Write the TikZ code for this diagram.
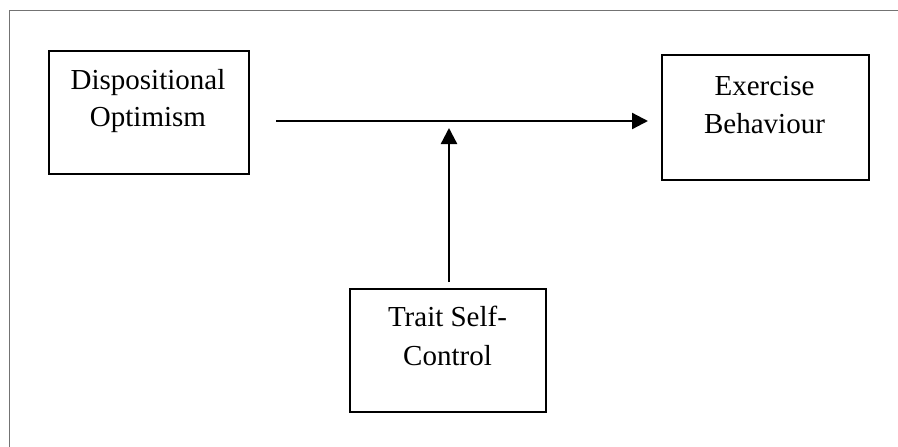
\documentclass[tikz,border=0pt]{standalone}
\usepackage{fontspec}
\setmainfont{Liberation Serif}
\usetikzlibrary{arrows.meta}
\tikzset{
  boxnode/.style={draw=black, line width=2.3pt, inner sep=0pt, anchor=north west},
  labeltext/.style={font=\fontsize{29}{37.5}\selectfont, align=center, anchor=base, inner sep=0pt},
  conn/.style={line width=2.3pt, -{Triangle[length=16pt,width=16pt]}},
  framestyle/.style={draw=black!55, line width=1pt}
}
\begin{document}
\begin{tikzpicture}[x=1pt,y=-1pt]
\useasboundingbox (0,0) rectangle (898,447);
\fill[white] (0,0) rectangle (898,447);
\draw[framestyle] (9,447) -- (9,10.5) -- (898,10.5);
% boxes
\node[boxnode, minimum width=200pt, minimum height=123pt] (opt) at (48,50) {};
\node[boxnode, minimum width=207pt, minimum height=125pt] (exb) at (661,54) {};
\node[boxnode, minimum width=196pt, minimum height=123pt] (tsc) at (349,288) {};
% texts
\node[labeltext] (optA) at (148,89.3) {Dispositional};
\node[labeltext] (optB) at (148,126.7) {Optimism};
\node[labeltext] (exbA) at (764.5,95) {Exercise};
\node[labeltext] (exbB) at (764.5,133.3) {Behaviour};
\node[labeltext] (tscA) at (447.5,326.7) {Trait Self-};
\node[labeltext] (tscB) at (447.5,365) {Control};
% connectors
\coordinate (hs) at (276,121);
\coordinate (he) at (648,121);
\coordinate (vs) at (449,282);
\coordinate (ve) at (449,128);
\draw[conn] (hs) -- (he);
\draw[conn] (vs) -- (ve);
\end{tikzpicture}
\end{document}
